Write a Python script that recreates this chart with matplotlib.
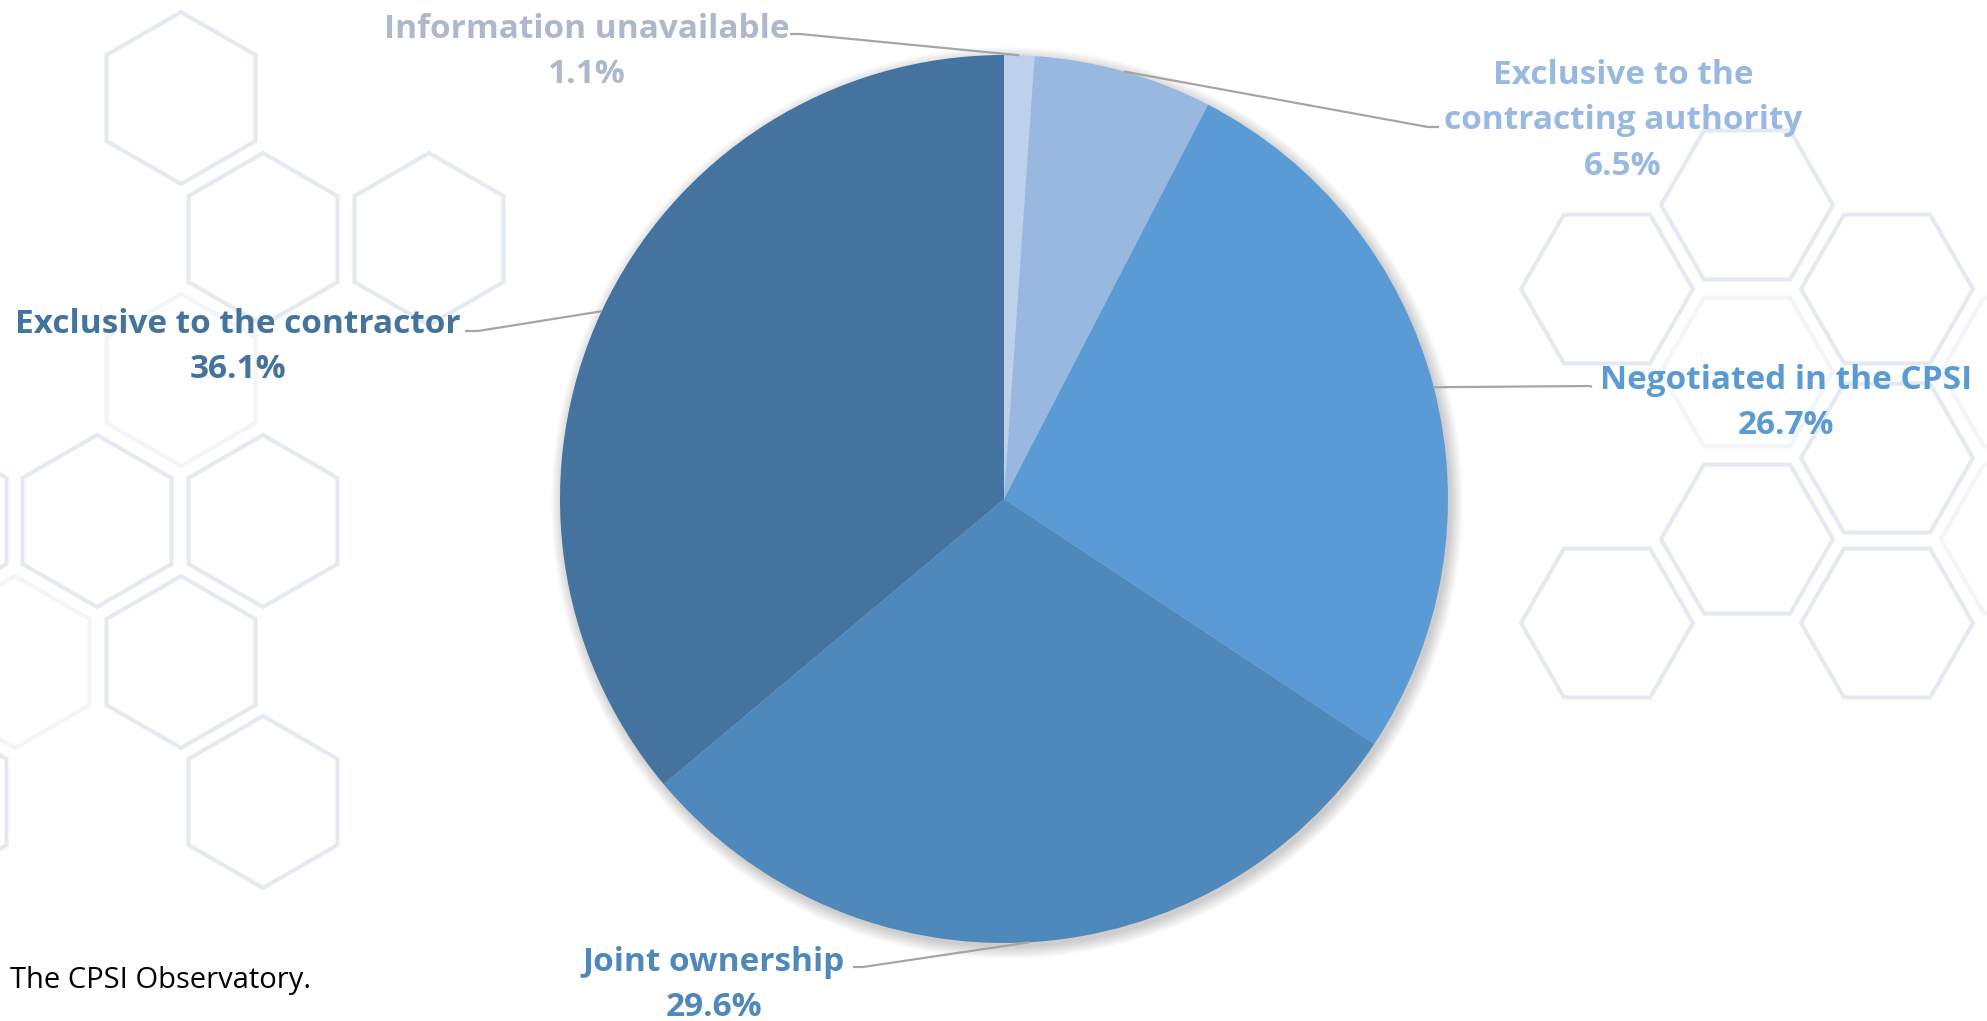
import numpy as np
import matplotlib.pyplot as plt
from matplotlib.patches import RegularPolygon, Circle

W, H = 1987, 1021

# data, clockwise from 12 o'clock
labels = ['Information unavailable', 'Exclusive to the\ncontracting authority',
          'Negotiated in the CPSI', 'Joint ownership', 'Exclusive to the contractor']
shares = [1.1, 6.5, 26.7, 29.6, 36.1]
slice_colors = ['#BDD1EB', '#98B8DF', '#5B9BD5', '#4F89BC', '#44739F']
text_colors = ['#ADB9CA', '#9AB9E0', '#5B9BD5', '#4F89BB', '#44739E']

# label layout in pixels (x, y from top), elbow of leader line, end near text
label_pos = [(587, 52), (1623, 121), (1786, 403), (714, 985), (238, 347)]
elbows = [(800, 34), (1428, 127), (1590, 386), (863, 967), (478, 331)]
ends = [(790, 34), (1439, 127), (1592, 387), (853, 967), (465, 331)]

center_px = (1004, 499)
radius = 444

plt.rcParams['font.family'] = ['Open Sans', 'DejaVu Sans']

fig = plt.figure(figsize=(W / 100, H / 100), dpi=100)
ax = fig.add_axes([0, 0, 1, 1])


def fy(y):
    return H - y


# faint honeycomb in background
hex_left = [(181, 98), (263, 239), (429, 239), (181, 380),
            (-68, 521), (97, 521), (263, 521), (181, 662), (15, 662), (263, 802), (-68, 802)]
hex_right = [(1747, 205), (1607, 289), (1887, 289), (1747, 372), (1887, 458),
             (1747, 539), (1607, 623), (1887, 623), (2027, 372), (2027, 539)]
faint = {(181, 380), (15, 662), (1747, 372), (2027, 372), (2027, 539)}
for (hx, hy) in hex_left:
    c = '#F3F5F9' if (hx, hy) in faint else '#E5EAF2'
    ax.add_patch(RegularPolygon((hx, fy(hy)), 6, radius=86, orientation=0,
                                fill=False, ec=c, lw=3, zorder=0))
for (hx, hy) in hex_right:
    c = '#F3F5F9' if (hx, hy) in faint else '#E5EAF2'
    ax.add_patch(RegularPolygon((hx, fy(hy)), 6, radius=86, orientation=np.pi / 6,
                                fill=False, ec=c, lw=3, zorder=0))

cx, cy = center_px[0], fy(center_px[1])

# soft shadow
for i in range(10):
    ax.add_patch(Circle((cx + 3, cy - 4), radius + i * 1.3, color='black',
                        alpha=0.018, lw=0, zorder=1))

wedges, _ = ax.pie(shares, colors=slice_colors, startangle=90, counterclock=False,
                   center=(cx, cy), radius=radius, frame=True,
                   wedgeprops=dict(linewidth=0, zorder=2))
ax.set_xlim(0, W)
ax.set_ylim(0, H)
ax.axis('off')

for w, lab, val, col, (lx, ly), (ex, ey), (tx, ty) in zip(
        wedges, labels, shares, text_colors, label_pos, elbows, ends):
    ang = np.deg2rad((w.theta1 + w.theta2) / 2)
    px = cx + radius * np.cos(ang)
    py = cy + radius * np.sin(ang)
    ax.plot([px, ex, tx], [py, fy(ey), fy(ty)], color='#A5A5A5', lw=1.6,
            solid_capstyle='butt', zorder=3)
    ax.text(lx, fy(ly), f'{lab}\n{val:.1f}%', ha='center', va='center',
            multialignment='center', color=col, fontsize=24, fontweight='bold',
            linespacing=1.5, zorder=4)

ax.text(10, fy(980), 'The CPSI Observatory.', ha='left', va='center',
        fontsize=21, color='black')

fig.savefig('out.png', dpi=100)
